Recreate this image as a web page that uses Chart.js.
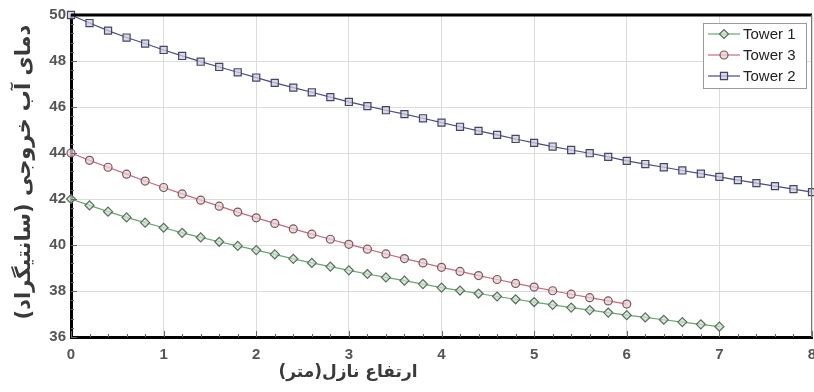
<!DOCTYPE html>
<html>
<head>
<meta charset="utf-8">
<script src="https://cdn.jsdelivr.net/npm/chart.js@4.4.1/dist/chart.umd.min.js"></script>
<style>
  html, body { margin: 0; padding: 0; background: #fff; }
  canvas { display: block; }
</style>
</head>
<body>
<canvas id="c" width="814" height="392"></canvas>
<script>
// Nozzle height (m) sample points
const heights = [0, 0.2, 0.4, 0.6, 0.8, 1.0, 1.2, 1.4, 1.6, 1.8, 2.0, 2.2, 2.4, 2.6, 2.8, 3.0,
  3.2, 3.4, 3.6, 3.8, 4.0, 4.2, 4.4, 4.6, 4.8, 5.0, 5.2, 5.4, 5.6, 5.8, 6.0,
  6.2, 6.4, 6.6, 6.8, 7.0, 7.2, 7.4, 7.6, 7.8, 8.0];

// Outlet water temperature (°C) per tower
const tower1 = [42.0, 41.72, 41.45, 41.2, 40.97, 40.75, 40.53, 40.33, 40.14, 39.96, 39.78,
  39.59, 39.4, 39.22, 39.06, 38.9, 38.74, 38.59, 38.45, 38.3, 38.15,
  38.02, 37.89, 37.76, 37.64, 37.52, 37.4, 37.28, 37.17, 37.06, 36.95,
  36.85, 36.75, 36.65, 36.55, 36.45];
const tower3 = [44.0, 43.68, 43.38, 43.08, 42.78, 42.5, 42.22, 41.95, 41.69, 41.43, 41.18,
  40.94, 40.7, 40.47, 40.25, 40.03, 39.82, 39.61, 39.41, 39.22, 39.03,
  38.85, 38.67, 38.5, 38.33, 38.17, 38.01, 37.86, 37.71, 37.57, 37.43];
const tower2 = [50.0, 49.65, 49.32, 49.02, 48.76, 48.48, 48.22, 47.97, 47.74, 47.51, 47.28,
  47.05, 46.84, 46.64, 46.43, 46.22, 46.04, 45.86, 45.69, 45.51, 45.32,
  45.14, 44.96, 44.79, 44.61, 44.44, 44.28, 44.13, 43.99, 43.83, 43.66,
  43.52, 43.38, 43.24, 43.10, 42.96, 42.82, 42.69, 42.56, 42.43, 42.30];

const seriesLabels = ['Tower 1', 'Tower 3', 'Tower 2'];
const xTicks = [0, 1, 2, 3, 4, 5, 6, 7, 8];
const yTicks = [36, 38, 40, 42, 44, 46, 48, 50];

const xTitle = 'ارتفاع نازل(متر)';
const yTitle = 'دمای آب خروجی (سانتیگراد)';

const pts = vals => vals.map((v, i) => ({ x: heights[i], y: v }));

const tickFont = { family: 'Liberation Sans, Arial, sans-serif', size: 15, weight: 'bold' };

// Inward minor/major ticks, frame top/right, axis titles and legend box
const framePlugin = {
  id: 'frame',
  afterDraw(chart) {
    const { ctx, chartArea: a, scales: { x, y } } = chart;
    ctx.save();
    ctx.strokeStyle = '#666';
    ctx.lineWidth = 1;
    ctx.beginPath();
    for (let v = 0; v <= 8.0001; v += 0.2) {
      const px = Math.round(x.getPixelForValue(v)) + 0.5;
      const len = Math.abs(v - Math.round(v)) < 1e-6 ? 6 : 3;
      ctx.moveTo(px, a.bottom); ctx.lineTo(px, a.bottom - len);
    }
    for (let v = 36; v <= 50.0001; v += 0.4) {
      const py = Math.round(y.getPixelForValue(v)) + 0.5;
      const len = Math.abs(v / 2 - Math.round(v / 2)) < 1e-6 ? 6 : 3;
      ctx.moveTo(a.left, py); ctx.lineTo(a.left + len, py);
    }
    ctx.stroke();

    // top and right frame
    ctx.strokeStyle = '#000';
    ctx.lineWidth = 3;
    ctx.beginPath();
    ctx.moveTo(a.left, a.top); ctx.lineTo(a.right, a.top);
    ctx.stroke();
    ctx.strokeStyle = '#777';
    ctx.lineWidth = 1;
    ctx.beginPath();
    ctx.moveTo(a.right - 0.5, a.top); ctx.lineTo(a.right - 0.5, a.bottom);
    ctx.stroke();

    // axis titles
    ctx.fillStyle = '#3a3a3a';
    ctx.textAlign = 'center';
    ctx.textBaseline = 'middle';
    ctx.direction = 'rtl';
    ctx.font = 'bold 17px "DejaVu Sans", sans-serif';
    ctx.fillText(xTitle, 348, 373);
    ctx.translate(25, 172);
    ctx.rotate(-Math.PI / 2);
    ctx.font = 'bold 21px "DejaVu Sans", sans-serif';
    ctx.fillText(yTitle, 0, 0);
    ctx.restore();

    // legend box
    ctx.save();
    const bx = a.right - 109, by = a.top + 8, bw = 103, bh = 65;
    ctx.fillStyle = '#fff';
    ctx.fillRect(bx, by, bw, bh);
    ctx.strokeStyle = '#9a9a9a';
    ctx.lineWidth = 1;
    ctx.strokeRect(bx + 0.5, by + 0.5, bw, bh);
    chart.data.datasets.forEach((ds, i) => {
      const cy = by + 11 + i * 21;
      ctx.strokeStyle = ds.borderColor;
      ctx.lineWidth = ds.borderWidth;
      ctx.beginPath();
      ctx.moveTo(bx + 5, cy); ctx.lineTo(bx + 37, cy);
      ctx.stroke();
      ctx.fillStyle = ds.pointBackgroundColor;
      ctx.strokeStyle = ds.pointBorderColor;
      ctx.lineWidth = ds.pointBorderWidth;
      Chart.helpers.drawPoint(ctx, { pointStyle: ds.pointStyle, radius: ds.pointRadius, rotation: 0, borderWidth: ds.pointBorderWidth }, bx + 21, cy);
      ctx.fillStyle = '#222';
      ctx.font = '15px "Liberation Sans", Arial, sans-serif';
      ctx.textAlign = 'left';
      ctx.textBaseline = 'middle';
      ctx.fillText(ds.label, bx + 40, cy + 1);
    });
    ctx.restore();
  }
};

const bgPlugin = {
  id: 'bg',
  beforeDraw(chart) {
    const ctx = chart.ctx;
    ctx.save();
    ctx.fillStyle = '#fff';
    ctx.fillRect(0, 0, chart.width, chart.height);
    ctx.restore();
  }
};

new Chart(document.getElementById('c'), {
  type: 'line',
  data: {
    datasets: [
      {
        label: seriesLabels[0], data: pts(tower1),
        borderColor: '#6aa46f', borderWidth: 1.2,
        pointStyle: 'rectRot', pointRadius: 4.5,
        pointBackgroundColor: 'rgba(210,220,210,0.75)', pointBorderColor: '#56705a', pointBorderWidth: 1.2
      },
      {
        label: seriesLabels[1], data: pts(tower3),
        borderColor: '#c9697d', borderWidth: 1.2,
        pointStyle: 'circle', pointRadius: 4,
        pointBackgroundColor: 'rgba(225,210,213,0.75)', pointBorderColor: '#7d5560', pointBorderWidth: 1.2
      },
      {
        label: seriesLabels[2], data: pts(tower2),
        borderColor: '#4a4a86', borderWidth: 1.2,
        pointStyle: 'rect', pointRadius: 5,
        pointBackgroundColor: 'rgba(205,205,218,0.75)', pointBorderColor: '#45456a', pointBorderWidth: 1.2
      }
    ]
  },
  options: {
    responsive: false,
    animation: false,
    clip: false,
    layout: { autoPadding: false, padding: { top: 15, right: 2, left: 0, bottom: 0 } },
    plugins: { legend: { display: false }, tooltip: { enabled: false } },
    elements: { line: { tension: 0 } },
    scales: {
      x: {
        type: 'linear', min: 0, max: 8,
        afterBuildTicks: s => { s.ticks = xTicks.map(v => ({ value: v })); },
        afterFit: s => { s.height = 55; s.paddingLeft = 0; s.paddingRight = 0; },
        ticks: { color: '#555', font: tickFont, padding: 9, maxRotation: 0, autoSkip: false },
        grid: { color: '#dcdcdc', lineWidth: 1, drawTicks: false },
        border: { display: true, color: '#000', width: 3 }
      },
      y: {
        type: 'linear', min: 36, max: 50,
        afterBuildTicks: s => { s.ticks = yTicks.map(v => ({ value: v })); },
        afterFit: s => { s.width = 71; s.paddingTop = 0; s.paddingBottom = 0; },
        ticks: { color: '#555', font: tickFont, padding: 5 },
        grid: { color: '#dcdcdc', lineWidth: 1, drawTicks: false },
        border: { display: true, color: '#000', width: 3 }
      }
    }
  },
  plugins: [bgPlugin, framePlugin]
});
</script>
</body>
</html>
